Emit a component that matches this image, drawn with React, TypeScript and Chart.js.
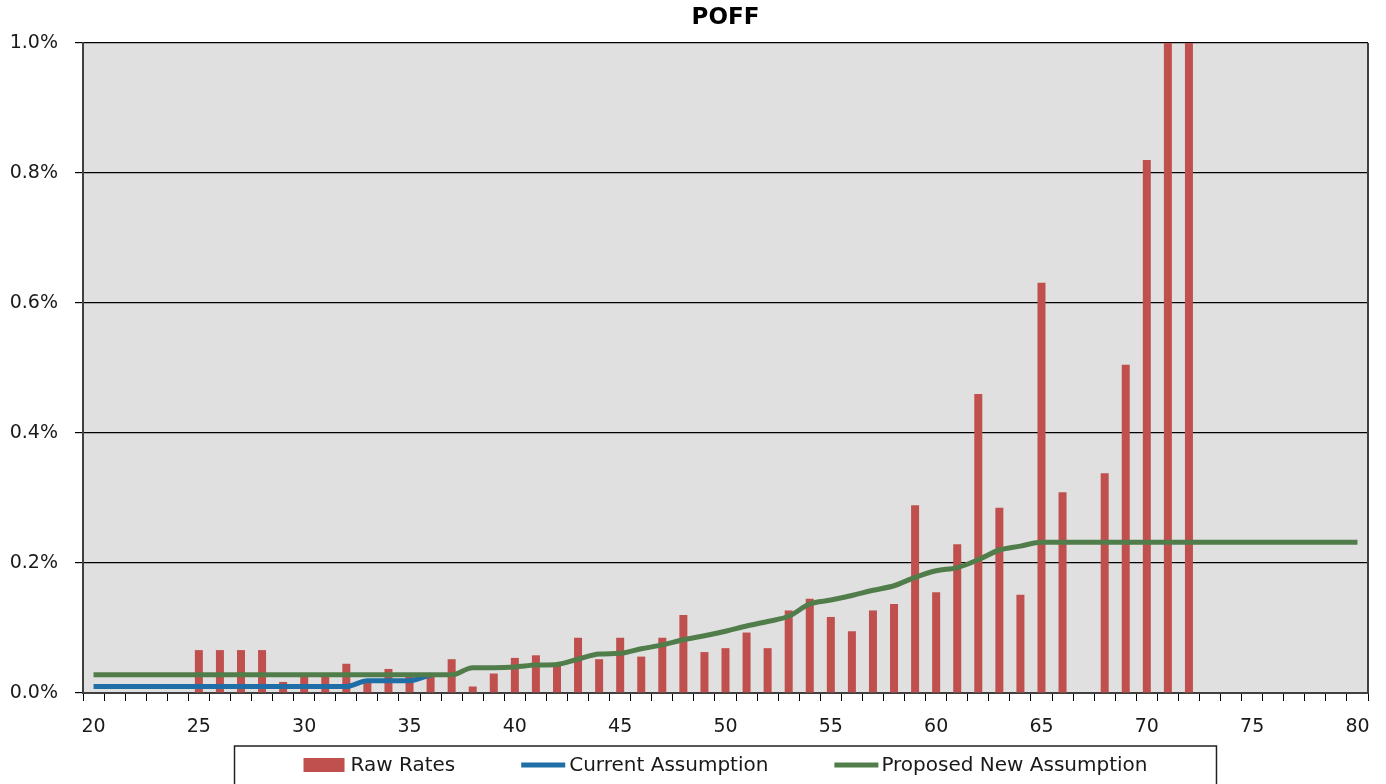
import React, { useEffect, useRef } from "react";
import { Chart, registerables } from "chart.js";

Chart.register(...registerables);

const FONT = "'DejaVu Sans', sans-serif";
const TITLE = "POFF";

const AGES = [
  20, 21, 22, 23, 24, 25, 26, 27, 28, 29,
  30, 31, 32, 33, 34, 35, 36, 37, 38, 39,
  40, 41, 42, 43, 44, 45, 46, 47, 48, 49,
  50, 51, 52, 53, 54, 55, 56, 57, 58, 59,
  60, 61, 62, 63, 64, 65, 66, 67, 68, 69,
  70, 71, 72, 73, 74, 75, 76, 77, 78, 79,
  80,
];

// values in percent
const RAW_RATES = [
  null, null, null, null, null, 0.066, 0.066, 0.066, 0.066, 0.017,
  0.027, 0.027, 0.045, 0.017, 0.037, 0.025, 0.027, 0.052, 0.010, 0.030,
  0.054, 0.058, 0.044, 0.085, 0.052, 0.085, 0.056, 0.085, 0.120, 0.063,
  0.069, 0.093, 0.069, 0.127, 0.145, 0.117, 0.095, 0.127, 0.137, 0.289,
  0.155, 0.229, 0.460, 0.285, 0.151, 0.631, 0.309, null, 0.338, 0.505,
  0.820, 1.350, 1.200, null, null, null, null, null, null, null,
  null,
];

const CURRENT_ASSUMPTION = [
  0.010, 0.010, 0.010, 0.010, 0.010, 0.010, 0.010, 0.010, 0.010, 0.010,
  0.010, 0.010, 0.010, 0.019, 0.019, 0.019, 0.028, null, null, null,
  null, null, null, null, null, null, null, null, null, null,
  null, null, null, null, null, null, null, null, null, null,
  null, null, null, null, null, null, null, null, null, null,
  null, null, null, null, null, null, null, null, null, null,
  null,
];

const PROPOSED_ASSUMPTION = [
  0.028, 0.028, 0.028, 0.028, 0.028, 0.028, 0.028, 0.028, 0.028, 0.028,
  0.028, 0.028, 0.028, 0.028, 0.028, 0.028, 0.028, 0.028, 0.039, 0.039,
  0.040, 0.043, 0.044, 0.052, 0.060, 0.061, 0.068, 0.074, 0.082, 0.088,
  0.095, 0.103, 0.110, 0.118, 0.137, 0.143, 0.150, 0.158, 0.165, 0.178,
  0.188, 0.193, 0.205, 0.220, 0.226, 0.232, 0.232, 0.232, 0.232, 0.232,
  0.232, 0.232, 0.232, 0.232, 0.232, 0.232, 0.232, 0.232, 0.232, 0.232,
  0.232,
];

const Y_MAX = 1.0;
const Y_STEP = 0.2;

const COLOR_BAR = "#C0504D";
const COLOR_CURRENT = "#1F6EA6";
const COLOR_PROPOSED = "#517D4B";
const PLOT_BG = "#E0E0E0";

const plotBgPlugin = {
  id: "plotBg",
  beforeDraw(chart: any) {
    const { ctx, chartArea } = chart;
    ctx.save();
    ctx.fillStyle = PLOT_BG;
    ctx.fillRect(chartArea.left, chartArea.top, chartArea.right - chartArea.left, chartArea.bottom - chartArea.top);
    ctx.restore();
  },
  afterDraw(chart: any) {
    const { ctx, chartArea } = chart;
    ctx.save();
    ctx.strokeStyle = "#404040";
    ctx.lineWidth = 2;
    ctx.beginPath();
    ctx.moveTo(chartArea.right, chartArea.top);
    ctx.lineTo(chartArea.right, chartArea.bottom);
    ctx.stroke();
    ctx.restore();
  },
};

const boxLegendPlugin = {
  id: "boxLegend",
  afterDraw(chart: any) {
    const { ctx, chartArea } = chart;
    ctx.save();
    ctx.font = `20px ${FONT}`;
    const swatchW = [41, 44, 44];
    const textGap = [6, 4, 3];
    const itemGap = 66;
    const items = chart.data.datasets.map((ds: any, i: number) => ({
      label: ds.label,
      kind: ds.type === "line" ? "line" : "rect",
      color: ds.type === "line" ? ds.borderColor : ds.backgroundColor,
      sw: swatchW[i],
      tg: textGap[i],
      w: swatchW[i] + textGap[i] + ctx.measureText(ds.label).width,
    }));
    const total = items.reduce((s: number, it: any) => s + it.w, 0) + itemGap * (items.length - 1);
    const center = (chartArea.left + chartArea.right) / 2;
    let x = center - total / 2;
    const boxTop = chartArea.bottom + 53;
    const cy = chartArea.bottom + 72;
    const padX = 69;
    ctx.fillStyle = "#ffffff";
    ctx.fillRect(x - padX, boxTop, total + 2 * padX, 60);
    ctx.strokeStyle = "#222";
    ctx.lineWidth = 1.5;
    ctx.strokeRect(x - padX, boxTop, total + 2 * padX, 60);
    ctx.textBaseline = "middle";
    ctx.textAlign = "left";
    for (const it of items) {
      if (it.kind === "rect") {
        ctx.fillStyle = it.color;
        ctx.fillRect(x, cy - 7, it.sw, 14);
      } else {
        ctx.strokeStyle = it.color;
        ctx.lineWidth = 5;
        ctx.beginPath();
        ctx.moveTo(x, cy);
        ctx.lineTo(x + it.sw, cy);
        ctx.stroke();
      }
      ctx.fillStyle = "#1a1a1a";
      ctx.fillText(it.label, x + it.sw + it.tg, cy + 1);
      x += it.w + itemGap;
    }
    ctx.restore();
  },
};

export default function App() {
  const canvasRef = useRef<HTMLCanvasElement | null>(null);

  useEffect(() => {
    const canvas = canvasRef.current;
    if (!canvas) return;
    Chart.defaults.font.family = FONT;
    const chart = new Chart(canvas, {
      type: "bar",
      data: {
        labels: AGES.map(String),
        datasets: [
          {
            type: "bar",
            label: "Raw Rates",
            data: RAW_RATES as any,
            backgroundColor: COLOR_BAR,
            borderWidth: 0,
            barPercentage: 0.38,
            categoryPercentage: 1,
            order: 3,
          },
          {
            type: "line",
            label: "Current Assumption",
            data: CURRENT_ASSUMPTION as any,
            borderColor: COLOR_CURRENT,
            backgroundColor: COLOR_CURRENT,
            borderWidth: 5,
            pointRadius: 0,
            pointHoverRadius: 0,
            cubicInterpolationMode: "monotone",
            borderJoinStyle: "round",
            fill: false,
            order: 2,
          },
          {
            type: "line",
            label: "Proposed New Assumption",
            data: PROPOSED_ASSUMPTION as any,
            borderColor: COLOR_PROPOSED,
            backgroundColor: COLOR_PROPOSED,
            borderWidth: 5,
            pointRadius: 0,
            pointHoverRadius: 0,
            cubicInterpolationMode: "monotone",
            borderJoinStyle: "round",
            fill: false,
            order: 1,
          },
        ] as any,
      },
      options: {
        responsive: false,
        animation: false,
        layout: { padding: { left: 0, right: 18, top: 0, bottom: 39 } },
        plugins: {
          legend: { display: false },
          tooltip: { enabled: false },
          title: {
            display: true,
            text: TITLE,
            fullSize: false,
            align: "center",
            color: "#000",
            font: { family: FONT, size: 23, weight: "bold" },
            padding: { top: 4, bottom: 11.4 },
          },
        },
        scales: {
          x: {
            type: "category",
            offset: true,
            grid: {
              offset: true,
              drawOnChartArea: false,
              drawTicks: true,
              tickLength: 8,
              color: "#000",
              lineWidth: 1,
            },
            border: { display: true, color: "#404040", width: 2 },
            ticks: {
              autoSkip: false,
              maxRotation: 0,
              minRotation: 0,
              padding: 15,
              color: "#1a1a1a",
              font: { family: FONT, size: 19 },
              callback: (_v: any, idx: number) => (AGES[idx] % 5 === 0 ? String(AGES[idx]) : ""),
            },
            afterFit: (s: any) => {
              s.height = 52;
            },
          },
          y: {
            min: 0,
            max: Y_MAX,
            ticks: {
              stepSize: Y_STEP,
              padding: 17,
              color: "#1a1a1a",
              font: { family: FONT, size: 19 },
              callback: (v: any) => Number(v).toFixed(1) + "%",
            },
            grid: { color: "#000", lineWidth: 1.2, tickLength: 8, drawTicks: true },
            border: { display: true, color: "#404040", width: 2 },
            afterFit: (s: any) => {
              s.width = 83;
            },
          },
        },
      } as any,
      plugins: [plotBgPlugin, boxLegendPlugin],
    });
    return () => chart.destroy();
  }, []);

  return (
    <div style={{ position: "fixed", left: 0, top: 0, width: 1386, height: 784, background: "#fff" }}>
      <canvas ref={canvasRef} width={1386} height={784} style={{ display: "block" }} />
    </div>
  );
}
